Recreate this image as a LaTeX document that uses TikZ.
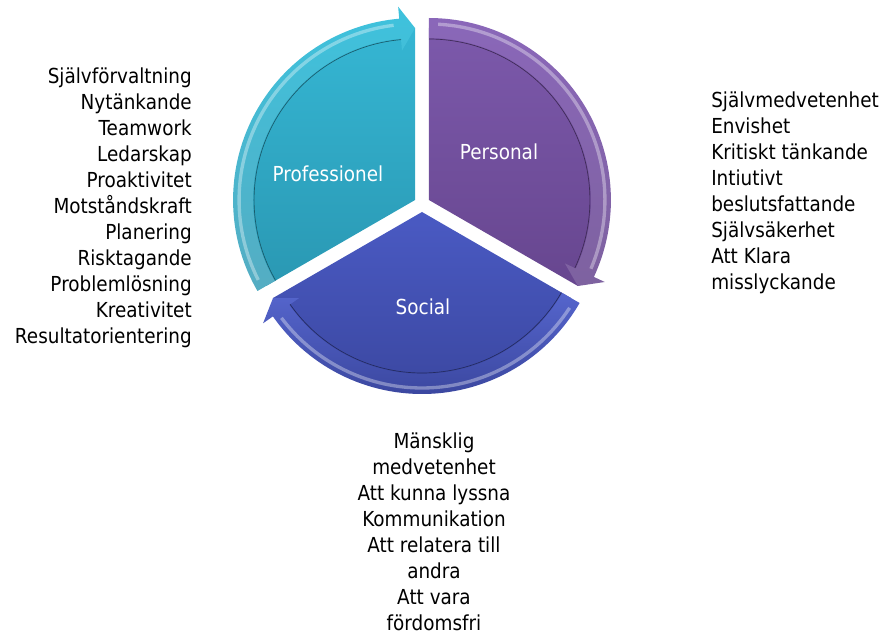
\documentclass[tikz,border=0pt]{standalone}
\usepackage{fontspec}
\setmainfont{DejaVu Sans}[FakeStretch=0.89]
\usepackage{tikz}

\definecolor{proTop}{HTML}{35B6D3}
\definecolor{proBot}{HTML}{2A98B3}
\definecolor{proBand}{HTML}{3EC2DD}
\definecolor{perTop}{HTML}{7C59AB}
\definecolor{perBot}{HTML}{67468F}
\definecolor{perBand}{HTML}{8A67B9}
\definecolor{socTop}{HTML}{4A5AC3}
\definecolor{socBot}{HTML}{3A469E}
\definecolor{socBand}{HTML}{5565CC}

\tikzset{
  itemlist/.style={inner sep=0pt, font=\fontsize{15.5}{19.5}\selectfont},
  seclabel/.style={inner sep=0pt, text=white, font=\fontsize{15.5}{19.5}\selectfont},
  rimline/.style={line width=0.5pt},
  glint/.style={white, opacity=0.35, line width=2.5}
}

\begin{document}
\begin{tikzpicture}[x=0.75pt,y=0.75pt]
  \useasboundingbox (-422,-431) rectangle (463,204);

  % Professionel
  \begin{scope}[shift={(150:8)}]
    \shade[top color=proTop, bottom color=proBot] (0,0) -- (210:172) arc (210:90:172) -- cycle;
    \shade[top color=proBand, bottom color=proBot!80!white] (210:162) arc (210:95:162) -- (95:150) -- (90:172) -- (95:194) -- (95:182) arc (95:210:182) -- cycle;
    \draw[rimline, proBot!60!black] (210:161) arc (210:95:161);
    \draw[glint] (207:176) arc (207:97:176);
  \end{scope}

  % Personal
  \begin{scope}[shift={(30:8)}]
    \shade[top color=perTop, bottom color=perBot] (0,0) -- (90:172) arc (90:-30:172) -- cycle;
    \shade[top color=perBand, bottom color=perBot!85!white] (90:162) arc (90:-25:162) -- (-25:150) -- (-30:172) -- (-25:194) -- (-25:182) arc (-25:90:182) -- cycle;
    \draw[rimline, perBot!60!black] (90:161) arc (90:-25:161);
    \draw[glint] (87:176) arc (87:-23:176);
  \end{scope}

  % Social
  \begin{scope}[shift={(270:8)}]
    \shade[top color=socTop, bottom color=socBot] (0,0) -- (330:172) arc (330:210:172) -- cycle;
    \shade[top color=socBand, bottom color=socBot] (330:162) arc (330:215:162) -- (215:150) -- (210:172) -- (215:194) -- (215:182) arc (215:330:182) -- cycle;
    \draw[rimline, socBot!60!black] (330:161) arc (330:215:161);
    \draw[glint] (327:176) arc (327:217:176);
  \end{scope}

  \node[seclabel] (professionel) at (-94,30) {Professionel};
  \node[seclabel] (personal) at (77,52) {Personal};
  \node[seclabel] (social) at (1,-103) {Social};

  \node[itemlist, align=right, anchor=east] (proList) at (-230,-3.5) {Självförvaltning\\Nytänkande\\Teamwork\\Ledarskap\\Proaktivitet\\Motståndskraft\\Planering\\Risktagande\\Problemlösning\\Kreativitet\\Resultatorientering};
  \node[itemlist, align=left, anchor=west] (perList) at (289,11) {Självmedvetenhet\\Envishet\\Kritiskt tänkande\\Intiutivt\\beslutsfattande\\Självsäkerhet\\Att Klara\\misslyckande};
  \node[itemlist, align=center] (socList) at (12,-327.5) {Mänsklig\\medvetenhet\\Att kunna lyssna\\Kommunikation\\Att relatera till\\andra\\Att vara\\fördomsfri};
\end{tikzpicture}
\end{document}
